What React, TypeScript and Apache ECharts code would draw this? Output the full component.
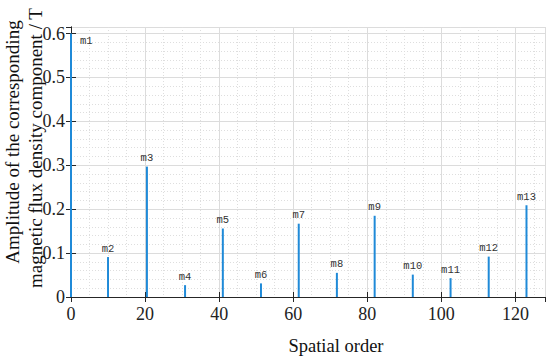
import React, { useEffect, useRef } from "react";
import * as echarts from "echarts";

const labels = ["m1","m2","m3","m4","m5","m6","m7","m8","m9","m10","m11","m12","m13"];
const orders = [0, 10, 20.5, 30.8, 41, 51.3, 61.5, 71.8, 82, 92.3, 102.5, 112.8, 123];
const amplitudes = [0.6, 0.091, 0.297, 0.027, 0.156, 0.031, 0.167, 0.055, 0.185, 0.051, 0.043, 0.092, 0.209];
const yTitle1 = "Amplitude of the corresponding";
const yTitle2 = "magnetic flux density component / T";
const xTitle = "Spatial order";

const SERIF = "Liberation Serif";
const AXIS = "#262626";

export default function App() {
  const ref = useRef<HTMLDivElement>(null);
  useEffect(() => {
    const chart = echarts.init(ref.current!, null, { renderer: "svg" });
    const data = labels.map((n, i) => {
      const item: any = { name: n, value: [orders[i], amplitudes[i]] };
      if (i === 0) {
        item.label = { position: [10, 2], align: "left", verticalAlign: "top" };
      }
      return item;
    });
    chart.setOption({
      animation: false,
      backgroundColor: "#ffffff",
      grid: { left: 71, right: 5, top: 27, bottom: 60 },
      xAxis: [
        {
          type: "value",
          min: 0,
          max: 128,
          interval: 20,
          axisLine: { show: true, lineStyle: { color: AXIS, width: 1 } },
          axisTick: { show: true, inside: true, length: 5, lineStyle: { color: AXIS } },
          axisLabel: { showMaxLabel: false, color: "#222", fontFamily: SERIF, fontSize: 18, margin: 8 },
          splitLine: { show: true, lineStyle: { color: "#dcdcdc", width: 1 } },
          minorTick: { show: false, splitNumber: 4 },
          minorSplitLine: { show: true, lineStyle: { color: "#dedede", type: [1, 2], width: 1 } },
        },
        {
          type: "value",
          position: "top",
          min: 0,
          max: 128,
          interval: 20,
          axisLine: { show: true, lineStyle: { color: AXIS, width: 1 } },
          axisTick: { show: true, inside: true, length: 5, lineStyle: { color: AXIS } },
          axisLabel: { show: false },
          splitLine: { show: false },
        },
      ],
      yAxis: [
        {
          type: "value",
          min: 0,
          max: 0.615,
          interval: 0.1,
          axisLine: { show: true, lineStyle: { color: AXIS, width: 1 } },
          axisTick: { show: true, inside: true, length: 5, lineStyle: { color: AXIS } },
          axisLabel: {
            showMaxLabel: false,
            color: "#222",
            fontFamily: SERIF,
            fontSize: 18,
            margin: 6,
            formatter: (v: number) => (v === 0 ? "0" : String(Math.round(v * 10) / 10)),
          },
          splitLine: { show: true, lineStyle: { color: "#dcdcdc", width: 1 } },
          minorTick: { show: false, splitNumber: 5 },
          minorSplitLine: { show: true, lineStyle: { color: "#dedede", type: [1, 2], width: 1 } },
        },
        {
          type: "value",
          position: "right",
          min: 0,
          max: 0.615,
          interval: 0.1,
          axisLine: { show: true, lineStyle: { color: AXIS, width: 1 } },
          axisTick: { show: true, inside: true, length: 5, lineStyle: { color: AXIS } },
          axisLabel: { show: false },
          splitLine: { show: false },
        },
      ],
      series: [
        {
          type: "bar",
          xAxisIndex: 0,
          yAxisIndex: 0,
          barWidth: 2,
          itemStyle: { color: "#1f8ad8" },
          label: {
            show: true,
            position: "top",
            distance: 3,
            formatter: "{b}",
            fontFamily: "Liberation Mono",
            fontSize: 10.5,
            color: "#333",
          },
          data,
        },
      ],
      graphic: [
        {
          type: "text",
          x: 12,
          y: 142,
          rotation: Math.PI / 2,
          style: {
            text: yTitle1,
            font: `19px "${SERIF}"`,
            fill: "#111",
            textAlign: "center",
            textVerticalAlign: "middle",
          },
        },
        {
          type: "text",
          x: 35,
          y: 148,
          rotation: Math.PI / 2,
          style: {
            text: yTitle2,
            font: `19px "${SERIF}"`,
            fill: "#111",
            textAlign: "center",
            textVerticalAlign: "middle",
          },
        },
        {
          type: "text",
          x: 336,
          y: 346,
          style: {
            text: xTitle,
            font: `18.5px "${SERIF}"`,
            fill: "#111",
            textAlign: "center",
            textVerticalAlign: "middle",
          },
        },
      ],
    });
    return () => chart.dispose();
  }, []);
  return <div ref={ref} style={{ width: 550, height: 357, position: "absolute", left: 0, top: 0 }} />;
}
